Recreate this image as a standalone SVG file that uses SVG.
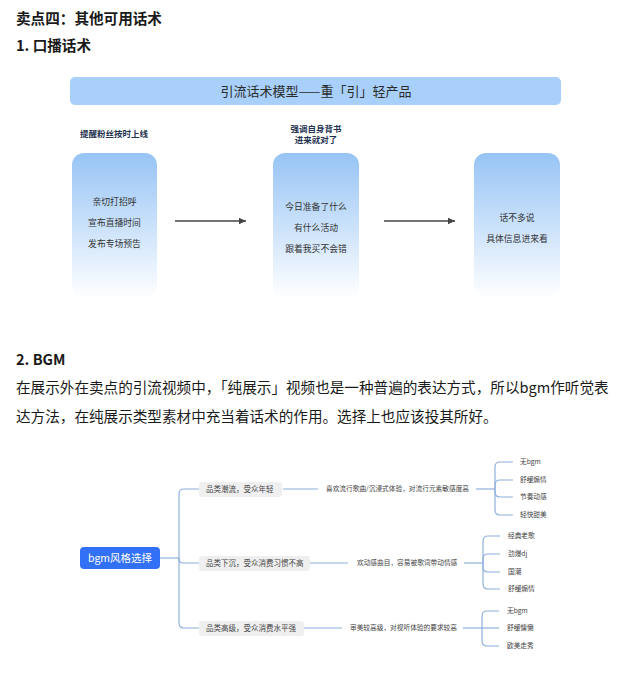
<svg xmlns="http://www.w3.org/2000/svg" width="632" height="698" viewBox="0 0 632 698">
<style>
text{font-family:"Noto Sans CJK SC","Liberation Sans",sans-serif;}
.h{font-size:14.6px;font-weight:bold;fill:#1a1a1a;}
.p{font-size:14.6px;fill:#1a1a1a;}
.ttl{font-size:13px;fill:#2b2b2b;text-anchor:middle;}
.lbl{font-size:8.5px;font-weight:bold;fill:#1f3350;}
.bt{font-size:8.8px;fill:#333;text-anchor:middle;}
.cat{font-size:7.5px;fill:#444;}
.sm{font-size:6.7px;fill:#444;}
.root{font-size:10.5px;fill:#fff;text-anchor:middle;}
.arr{stroke:#444;stroke-width:1.3;fill:none;}
.br{stroke:#8eb0dc;stroke-width:1.2;fill:none;}
.cbox{fill:#efefef;}
</style>
<defs>
<linearGradient id="g" x1="0" y1="0" x2="0" y2="1">
<stop offset="0" stop-color="#97c4f5"/>
<stop offset="0.55" stop-color="#cfe4fb"/>
<stop offset="1" stop-color="#ffffff"/>
</linearGradient>
<marker id="ah" markerWidth="8" markerHeight="8" refX="7" refY="4" orient="auto" markerUnits="userSpaceOnUse">
<path d="M0,0.8 L7,4 L0,7.2 Z" fill="#444"/>
</marker>
</defs>
<rect width="632" height="698" fill="#fff"/>

<g id="headings">
<text class="h" x="16" y="24">卖点四：其他可用话术</text>
<text class="h" x="16" y="51">1. 口播话术</text>
<text class="h" x="16" y="365">2. BGM</text>
<text class="p" x="16" y="393">在展示外在卖点的引流视频中，「纯展示」视频也是一种普遍的表达方式，所以bgm作听觉表</text>
<text class="p" x="16" y="422">达方法，在纯展示类型素材中充当着话术的作用。选择上也应该投其所好。</text>
</g>

<g id="flow-title">
<rect x="70" y="77" width="491" height="28" rx="5" fill="#a8d0fa"/>
<text class="ttl" x="316" y="96">引流话术模型——重「引」轻产品</text>
</g>

<g id="flow-labels">
<text class="lbl" x="80" y="137">提醒粉丝按时上线</text>
<text class="lbl" x="316" y="132" text-anchor="middle">强调自身背书</text>
<text class="lbl" x="316" y="143" text-anchor="middle">进来就对了</text>
</g>

<g id="box1">
<rect x="72" y="153" width="85" height="145" rx="12" fill="url(#g)"/>
<text class="bt" x="114.5" y="205">亲切打招呼</text>
<text class="bt" x="114.5" y="226">宣布直播时间</text>
<text class="bt" x="114.5" y="247">发布专场预告</text>
</g>
<g id="box2">
<rect x="273" y="153" width="86" height="145" rx="12" fill="url(#g)"/>
<text class="bt" x="316" y="210">今日准备了什么</text>
<text class="bt" x="316" y="231">有什么活动</text>
<text class="bt" x="316" y="252">跟着我买不会错</text>
</g>
<g id="box3">
<rect x="474" y="153" width="86" height="145" rx="12" fill="url(#g)"/>
<text class="bt" x="517" y="221">话不多说</text>
<text class="bt" x="517" y="242">具体信息进来看</text>
</g>

<g id="flow-connectors">
<line class="arr" x1="175" y1="221" x2="246" y2="221" marker-end="url(#ah)"/>
<line class="arr" x1="384" y1="221" x2="455" y2="221" marker-end="url(#ah)"/>
</g>

<g id="mindmap-connectors">
<path class="br" d="M160,558 H179"/>
<path class="br" d="M179,558 V494 Q179,489 184,489 H199"/>
<path class="br" d="M179,558 V559 Q179,563 183,563 H199"/>
<path class="br" d="M179,558 V623 Q179,628 184,628 H199"/>
<path class="br" d="M283,489 H318"/>
<path class="br" d="M476,489 H495"/>
<path class="br" d="M495,489 V467 Q495,462 500,462 H513"/>
<path class="br" d="M495,489 V485 Q495,480 500,480 H513"/>
<path class="br" d="M495,489 V492 Q495,497 500,497 H513"/>
<path class="br" d="M495,489 V510 Q495,515 500,515 H513"/>
<path class="br" d="M310,563 H348"/>
<path class="br" d="M464,563 H483"/>
<path class="br" d="M483,563 V541 Q483,536 488,536 H500"/>
<path class="br" d="M483,563 V559 Q483,554 488,554 H500"/>
<path class="br" d="M483,563 V567 Q483,572 488,572 H500"/>
<path class="br" d="M483,563 V584 Q483,589 488,589 H500"/>
<path class="br" d="M304,628 H342"/>
<path class="br" d="M463,628 H482"/>
<path class="br" d="M482,628 V616 Q482,611 487,611 H499"/>
<path class="br" d="M482,628 H499"/>
<path class="br" d="M482,628 V641 Q482,646 487,646 H499"/>
</g>

<g id="root">
<rect x="80" y="547" width="80" height="22" rx="4" fill="#3271f5"/>
<text class="root" x="120" y="562">bgm风格选择</text>
</g>

<g id="cat1">
<rect class="cbox" x="199" y="482" width="83" height="15" rx="3"/>
<text class="cat" x="206" y="492">品类潮流，受众年轻</text>
</g>
<g id="cat2">
<rect class="cbox" x="199" y="556" width="111" height="15" rx="3"/>
<text class="cat" x="206" y="566">品类下沉，受众消费习惯不高</text>
</g>
<g id="cat3">
<rect class="cbox" x="199" y="621" width="105" height="15" rx="3"/>
<text class="cat" x="206" y="631">品类高级，受众消费水平强</text>
</g>

<g id="desc1"><text class="sm" x="326" y="491.3">喜欢流行歌曲/沉浸式体验，对流行元素敏感度高</text></g>
<g id="desc2"><text class="sm" x="357" y="565.3">欢动感曲目，容易被歌词带动情感</text></g>
<g id="desc3"><text class="sm" x="350" y="630.3">审美较高级，对视听体验的要求较高</text></g>

<g id="leaves1">
<text class="sm" x="520" y="464.3">无bgm</text>
<text class="sm" x="520" y="482.3">舒缓煽情</text>
<text class="sm" x="520" y="499.3">节奏动感</text>
<text class="sm" x="520" y="517.3">轻快甜美</text>
</g>
<g id="leaves2">
<text class="sm" x="508" y="538.3">经典老歌</text>
<text class="sm" x="508" y="556.3">劲爆dj</text>
<text class="sm" x="508" y="574.3">国潮</text>
<text class="sm" x="508" y="591.3">舒缓煽情</text>
</g>
<g id="leaves3">
<text class="sm" x="507" y="613.3">无bgm</text>
<text class="sm" x="507" y="630.3">舒缓慵懒</text>
<text class="sm" x="507" y="648.3">欧美走秀</text>
</g>
</svg>
